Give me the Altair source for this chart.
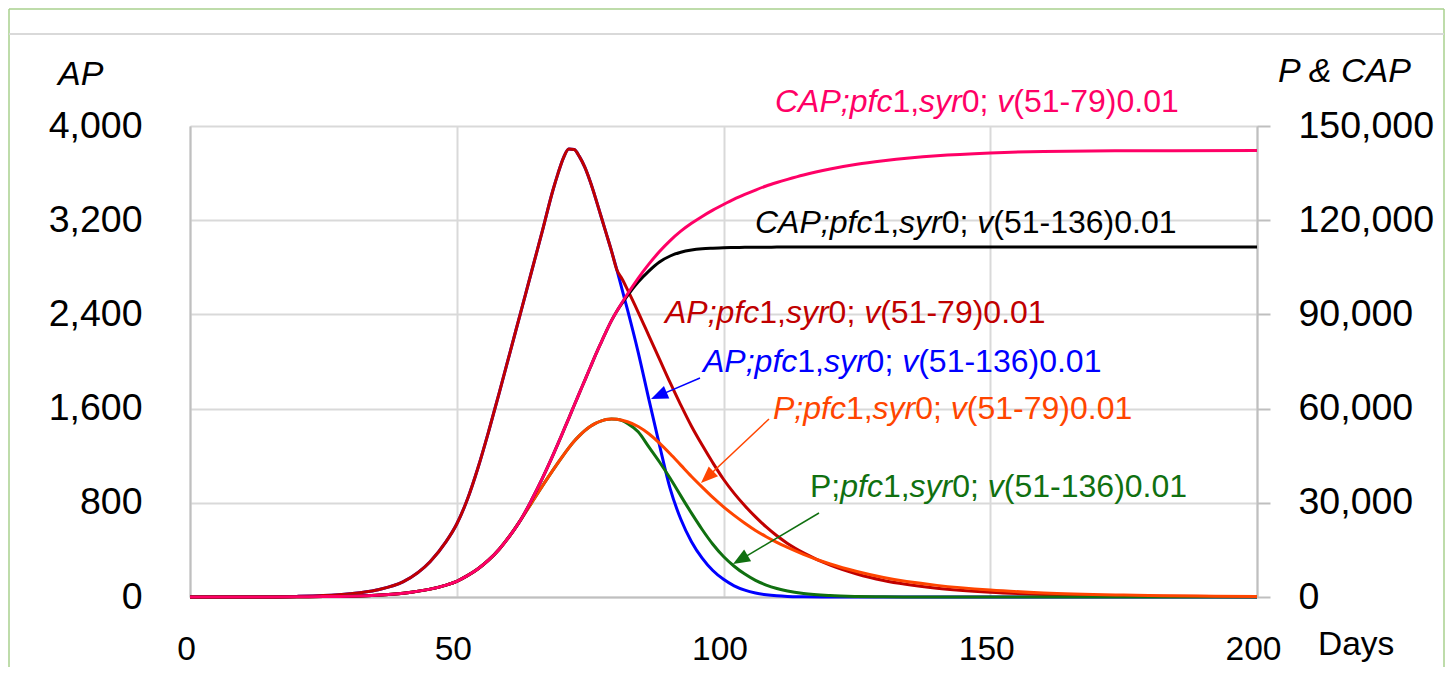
import math
import altair as alt
import pandas as pd

# ---------------- data ----------------
days = [0, 10, 20, 25, 30, 35, 40, 45, 48, 50,
        52, 54, 56, 58, 60, 62, 64, 66, 68, 69,
        70, 71, 72, 73, 74, 75, 76, 77, 78, 79,
        80, 81, 82, 84, 86, 88, 90, 92, 94, 96,
        98, 100, 102, 104, 106, 108, 110, 112, 115, 120,
        125, 130, 140, 150, 160, 175, 200]

# AP (left axis): common part up to day 80
ap_common = [0, 0, 5, 12, 28, 60, 130, 300, 470, 620,
             830, 1100, 1410, 1740, 2080, 2420, 2760, 3100, 3450, 3600,
             3730, 3805, 3800, 3740, 3650, 3530, 3390, 3240, 3090, 2940,
             2780]
ap_79_after = [2700, 2610, 2420, 2220, 2020, 1820, 1630, 1450, 1290,
               1140, 1000, 880, 775, 680, 595, 520, 455, 375, 270,
               195, 140, 75, 40, 21, 8, 2]
ap_136_after = [2610, 2440, 2080, 1680, 1290, 920, 660, 470, 330,
                225, 150, 95, 58, 34, 19, 10, 5, 2, 0,
                0, 0, 0, 0, 0, 0, 0]

# P (right axis)
p_common = [0, 10, 60, 120, 250, 550, 1200, 2500, 3800, 5000,
            6800, 9000, 11800, 15300, 19600, 24600, 29900, 35200, 40300, 42800,
            45200, 47500, 49600, 51400, 53000, 54300, 55300, 56000, 56500, 56700,
            56600]
p_79_after = [56300, 55800, 54300, 52000, 49000, 45600, 42000, 38400, 35000,
              31700, 28700, 26000, 23500, 21200, 19200, 17400, 15800, 13600, 10500,
              8100, 6200, 3700, 2200, 1300, 600, 150]
p_136_after = [56200, 55300, 52600, 47800, 43000, 37800, 32200, 26700, 21500,
               16800, 12900, 9800, 7300, 5300, 3800, 2700, 1900, 1100, 450,
               180, 70, 10, 0, 0, 0, 0]

# CAP (right axis)
cap_common = [0, 10, 60, 120, 250, 550, 1200, 2500, 3800, 5000,
              6800, 9000, 11800, 15300, 19600, 24600, 30800, 37600, 45000, 48900,
              52900, 56900, 61000, 65000, 69000, 73000, 77000, 80800, 84500, 88000,
              91000]
cap_79_after = [93800, 96500, 101500, 106000, 110000, 113500, 116500, 119000, 121200,
                123200, 125000, 126700, 128200, 129600, 130900, 132000, 133000, 134400, 136300,
                137800, 138900, 140500, 141400, 141900, 142100, 142200]
cap_136_after = [93600, 96000, 100300, 103800, 106700, 108600, 109800, 110500, 110900,
                 111100, 111250, 111300, 111350, 111400, 111400, 111450, 111450, 111500, 111500,
                 111500, 111500, 111500, 111500, 111500, 111500, 111500]

left_ticks = [0, 800, 1600, 2400, 3200, 4000]
right_ticks = [0, 30000, 60000, 90000, 120000, 150000]
x_ticks = [0, 50, 100, 150, 200]

series = {
    "AP;pfc1,syr0; v(51-136)0.01": ap_common + ap_136_after,
    "AP;pfc1,syr0; v(51-79)0.01": ap_common + ap_79_after,
    "P;pfc1,syr0; v(51-136)0.01": p_common + p_136_after,
    "P;pfc1,syr0; v(51-79)0.01": p_common + p_79_after,
    "CAP;pfc1,syr0; v(51-136)0.01": cap_common + cap_136_after,
    "CAP;pfc1,syr0; v(51-79)0.01": cap_common + cap_79_after,
}

# ---------------- styling / layout ----------------
FONT = "Liberation Sans"
C_PINK, C_BLACK, C_RED = "#FF0066", "#000000", "#C00000"
C_BLUE, C_ORANGE, C_GREEN = "#0000FF", "#FF4500", "#107010"

W, H = 1067, 471          # plot area
PADL, PADT = 182, 118     # plot origin in page = (190, 126)
X0, Y0 = PADL + 8, PADT + 8


def px2t(x):
    return (x - X0) * 200.0 / W


def py2v(y):
    return (Y0 + H - y) * 4000.0 / H


xs = alt.Scale(domain=[0, 200], nice=False, zero=False)
x_axis = alt.Axis(values=x_ticks, title=None, labelFontSize=33.5, labelFont=FONT,
                  labelColor="#000000", labelPadding=62, labelBaseline="alphabetic",
                  labelFlush=False, labelOffset=-4, ticks=False, tickSize=0,
                  domainColor="#bfbfbf", domainWidth=2, grid=True,
                  gridColor="#d9d9d9", gridWidth=2, format="d")
X = alt.X("t:Q", scale=xs, axis=x_axis)

yl_scale = alt.Scale(domain=[0, 4000], nice=False, zero=False)
yl_axis = alt.Axis(values=left_ticks, format=",.0f", title=None, orient="left",
                   labelFontSize=37.5, labelFont=FONT, labelColor="#000000",
                   labelPadding=48, ticks=False, tickSize=0, domainColor="#bfbfbf",
                   domainWidth=2, grid=True, gridColor="#d9d9d9", gridWidth=2)
YL = alt.Y("v:Q", scale=yl_scale, axis=yl_axis)

yr_scale = alt.Scale(domain=[0, 150000], nice=False, zero=False)
yr_axis = alt.Axis(values=right_ticks, format=",.0f", title=None, orient="right",
                   labelFontSize=37.5, labelFont=FONT, labelColor="#000000",
                   labelPadding=28, ticks=True, tickSize=13, tickColor="#bfbfbf",
                   tickWidth=2, domainColor="#bfbfbf", domainWidth=2, grid=False)
YR = alt.Y("v:Q", scale=yr_scale, axis=yr_axis)

YA = alt.Y("v:Q", scale=yl_scale, axis=None)


def line_layer(name, color, Y):
    df = pd.DataFrame({"t": days, "v": series[name]})
    return alt.Chart(df).mark_line(color=color, strokeWidth=3,
                                   interpolate="monotone").encode(x=X, y=Y)


left = alt.layer(
    line_layer("AP;pfc1,syr0; v(51-136)0.01", C_BLUE, YL),
    line_layer("AP;pfc1,syr0; v(51-79)0.01", C_RED, YL),
)
right = alt.layer(
    line_layer("P;pfc1,syr0; v(51-136)0.01", C_GREEN, YR),
    line_layer("P;pfc1,syr0; v(51-79)0.01", C_ORANGE, YR),
    line_layer("CAP;pfc1,syr0; v(51-136)0.01", C_BLACK, YR),
    line_layer("CAP;pfc1,syr0; v(51-79)0.01", C_PINK, YR),
)

# ---------------- annotations (mixed italic / upright) ----------------
AW = {'A': 667, 'P': 667, 'C': 722, ';': 278, 'p': 556, 'f': 278, 'c': 500,
      ',': 278, 's': 500, 'y': 500, 'r': 333, ' ': 278, 'v': 500, '(': 333,
      ')': 333, '-': 333, '.': 278}
for _d in "0123456789":
    AW[_d] = 556
FS = 32


def tw(s):
    return sum(AW[c] for c in s) * FS / 1000.0


tail = [("1,", 0), ("syr", 1), ("0; ", 0), ("v", 1)]
labels = [
    ((775, 112), C_PINK, [("CAP;pfc", 1)] + tail + [("(51-79)0.01", 0)]),
    ((755, 233), C_BLACK, [("CAP;pfc", 1)] + tail + [("(51-136)0.01", 0)]),
    ((665, 323), C_RED, [("AP;pfc", 1)] + tail + [("(51-79)0.01", 0)]),
    ((703, 372), C_BLUE, [("AP;pfc", 1)] + tail + [("(51-136)0.01", 0)]),
    ((773, 419), C_ORANGE, [("P;pfc", 1)] + tail + [("(51-79)0.01", 0)]),
    ((810, 497), C_GREEN, [("P;", 0), ("pfc", 1)] + tail + [("(51-136)0.01", 0)]),
]
rows = []
for (lx, ly), col, segs in labels:
    cum = 0.0
    for s, it in segs:
        rows.append({"t": px2t(lx + cum), "v": py2v(ly), "txt": s, "col": col, "it": it})
        cum += tw(s)
txt_df = pd.DataFrame(rows)

txt_it = alt.Chart(txt_df).transform_filter(alt.datum.it == 1).mark_text(
    align="left", baseline="alphabetic", fontSize=FS, font=FONT, fontStyle="italic"
).encode(x=X, y=YA, text="txt:N", color=alt.Color("col:N", scale=None))
txt_up = alt.Chart(txt_df).transform_filter(alt.datum.it == 0).mark_text(
    align="left", baseline="alphabetic", fontSize=FS, font=FONT
).encode(x=X, y=YA, text="txt:N", color=alt.Color("col:N", scale=None))

arrows = [((700, 378), (651, 399), C_BLUE),
          ((769, 419), (701, 483), C_ORANGE),
          ((819, 513), (733, 564), C_GREEN)]
HEAD_R = 8.5
arr_rows, head_rows = [], []
for (sx, sy), (ex, ey), col in arrows:
    dx, dy = ex - sx, ey - sy
    L = math.hypot(dx, dy)
    ux, uy = dx / L, dy / L
    ang = math.degrees(math.atan2(dx, -dy)) % 360
    bx, by = ex - 1.6 * HEAD_R * ux, ey - 1.6 * HEAD_R * uy
    arr_rows.append({"t": px2t(sx), "v": py2v(sy), "t2": px2t(bx), "v2": py2v(by), "col": col})
    cx, cy = ex - HEAD_R * ux, ey - HEAD_R * uy
    head_rows.append({"t": px2t(cx), "v": py2v(cy), "ang": ang, "col": col})

arr_lines = alt.Chart(pd.DataFrame(arr_rows)).mark_rule(strokeWidth=1.5).encode(
    x=X, y=YA, x2="t2:Q", y2="v2:Q", color=alt.Color("col:N", scale=None))
arr_heads = alt.Chart(pd.DataFrame(head_rows)).mark_point(
    shape="M0,-1L0.8,1L-0.8,1Z", filled=True, size=HEAD_R * HEAD_R * 4, opacity=1,
    strokeWidth=0
).encode(x=X, y=YA, angle=alt.Angle("ang:Q", scale=None),
         color=alt.Color("col:N", scale=None))

annot = alt.layer(txt_it, txt_up, arr_lines, arr_heads)

# ---------------- decorations: axis titles and frame ----------------
one = pd.DataFrame({"a": [0]})


def ptext(s, x, y, size, italic=True):
    kw = dict(text=s, align="left", baseline="alphabetic", fontSize=size, font=FONT,
              color="#000000")
    if italic:
        kw["fontStyle"] = "italic"
    return alt.Chart(one).mark_text(**kw).encode(x=alt.value(x - X0), y=alt.value(y - Y0))


def prule(x1, y1, x2, y2, color, width):
    return alt.Chart(one).mark_rule(color=color, strokeWidth=width).encode(
        x=alt.value(x1 - X0), x2=alt.value(x2 - X0),
        y=alt.value(y1 - Y0), y2=alt.value(y2 - Y0))


deco = [
    ptext("AP", 58, 85, 34),
    ptext("P & CAP", 1278, 82, 34),
    ptext("Days", 1318, 655, 33.5, italic=False),
    prule(9, 9, 9, 667, "#A9D08E", 1.5),
    prule(9, 9, 1444, 9, "#A9D08E", 1.5),
    prule(1444, 9, 1444, 667, "#A9D08E", 1.5),
    prule(9, 34, 1444, 34, "#d9d9d9", 2),
]

chart = alt.layer(left, right, annot, *deco).resolve_scale(y="independent").properties(
    width=W, height=H,
    padding={"left": PADL, "top": PADT, "right": 188, "bottom": 70},
    autosize=alt.AutoSizeParams(type="none"),
    background="white",
).configure_view(stroke=None).configure(font=FONT)

chart.save("out.html", embed_options={"renderer": "svg", "actions": False})
